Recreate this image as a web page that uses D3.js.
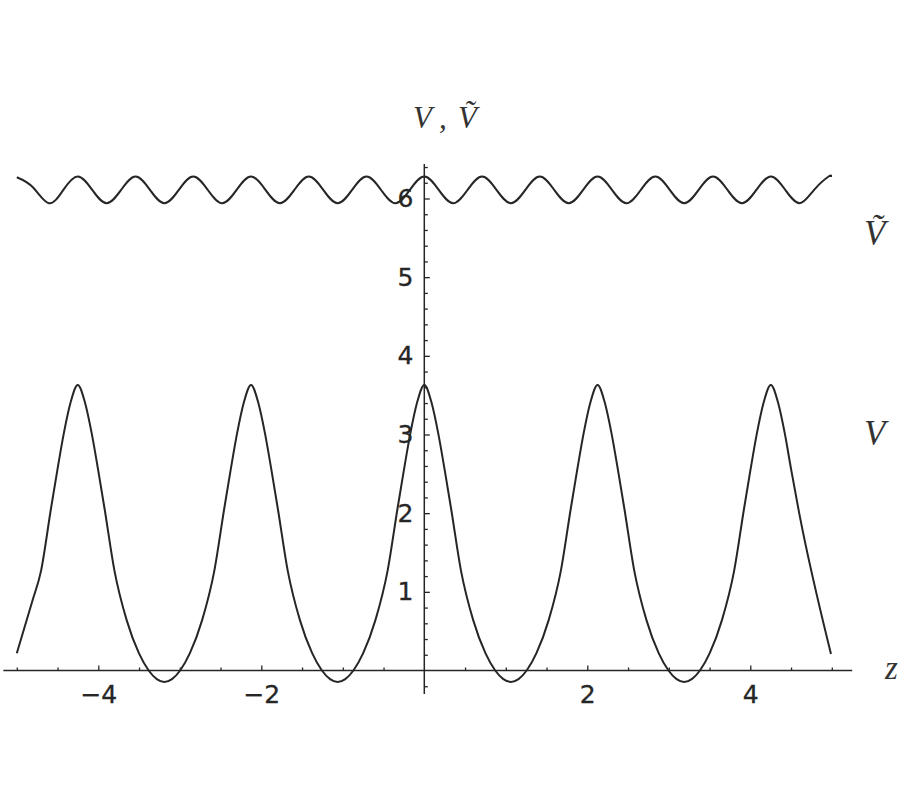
<!DOCTYPE html>
<html>
<head>
<meta charset="utf-8">
<script src="https://cdn.jsdelivr.net/npm/d3@7"></script>
<style>
  html, body { margin: 0; padding: 0; background: #ffffff; }
  svg { display: block; }
</style>
</head>
<body>
<svg id="chart" width="900" height="800"></svg>
<script>
// ---- Data ----
// V(z): pairs [z, V]
const vCurve = [
  [-5.000, 0.22], [-4.810, 0.88], [-4.702, 1.27], [-4.582, 2.05], [-4.502, 2.55],
  [-4.422, 3.02], [-4.342, 3.40], [-4.252, 3.63], [-4.162, 3.40], [-4.082, 3.02],
  [-4.002, 2.55], [-3.922, 2.05], [-3.802, 1.27], [-3.652, 0.64], [-3.502, 0.22],
  [-3.382, 0.00], [-3.282, -0.11], [-3.189, -0.145], [-3.096, -0.11], [-2.996, 0.00],
  [-2.876, 0.22], [-2.726, 0.64], [-2.576, 1.27], [-2.456, 2.05], [-2.376, 2.55],
  [-2.296, 3.02], [-2.216, 3.40], [-2.126, 3.63], [-2.036, 3.40], [-1.956, 3.02],
  [-1.876, 2.55], [-1.796, 2.05], [-1.676, 1.27], [-1.526, 0.64], [-1.376, 0.22],
  [-1.256, 0.00], [-1.156, -0.11], [-1.063, -0.145], [-0.970, -0.11], [-0.870, 0.00],
  [-0.750, 0.22], [-0.600, 0.64], [-0.450, 1.27], [-0.330, 2.05], [-0.250, 2.55],
  [-0.170, 3.02], [-0.090, 3.40], [0.000, 3.63], [0.090, 3.40], [0.170, 3.02],
  [0.250, 2.55], [0.330, 2.05], [0.450, 1.27], [0.600, 0.64], [0.750, 0.22],
  [0.870, 0.00], [0.970, -0.11], [1.063, -0.145], [1.156, -0.11], [1.256, 0.00],
  [1.376, 0.22], [1.526, 0.64], [1.676, 1.27], [1.796, 2.05], [1.876, 2.55],
  [1.956, 3.02], [2.036, 3.40], [2.126, 3.63], [2.216, 3.40], [2.296, 3.02],
  [2.376, 2.55], [2.456, 2.05], [2.576, 1.27], [2.726, 0.64], [2.876, 0.22],
  [2.996, 0.00], [3.096, -0.11], [3.189, -0.145], [3.282, -0.11], [3.382, 0.00],
  [3.502, 0.22], [3.652, 0.64], [3.802, 1.27], [3.922, 2.05], [4.002, 2.55],
  [4.082, 3.02], [4.162, 3.40], [4.252, 3.63], [4.342, 3.40], [4.422, 3.02],
  [4.502, 2.55], [4.600, 2.00], [4.990, 0.21]
];

// Ṽ(z): pairs [z, Ṽ]
const vTildeCurve = [
  [-5.000, 6.27], [-4.800, 6.14], [-4.606, 5.94], [-4.429, 6.11], [-4.252, 6.28],
  [-4.075, 6.11], [-3.898, 5.94], [-3.720, 6.11], [-3.543, 6.28], [-3.366, 6.11],
  [-3.189, 5.94], [-3.012, 6.11], [-2.835, 6.28], [-2.657, 6.11], [-2.480, 5.94],
  [-2.303, 6.11], [-2.126, 6.28], [-1.949, 6.11], [-1.772, 5.94], [-1.594, 6.11],
  [-1.417, 6.28], [-1.240, 6.11], [-1.063, 5.94], [-0.886, 6.11], [-0.709, 6.28],
  [-0.531, 6.11], [-0.354, 5.94], [-0.177, 6.11], [0.000, 6.28], [0.177, 6.11],
  [0.354, 5.94], [0.531, 6.11], [0.709, 6.28], [0.886, 6.11], [1.063, 5.94],
  [1.240, 6.11], [1.417, 6.28], [1.594, 6.11], [1.772, 5.94], [1.949, 6.11],
  [2.126, 6.28], [2.303, 6.11], [2.480, 5.94], [2.657, 6.11], [2.835, 6.28],
  [3.012, 6.11], [3.189, 5.94], [3.366, 6.11], [3.543, 6.28], [3.720, 6.11],
  [3.898, 5.94], [4.075, 6.11], [4.252, 6.28], [4.429, 6.11], [4.606, 5.94],
  [4.783, 6.11], [4.961, 6.28], [4.990, 6.275]
];

const xMajorTicks = [-4, -2, 2, 4];
const xMinorTicks = [-5, -4.5, -3.5, -3, -2.5, -1.5, -1, -0.5, 0.5, 1, 1.5, 2.5, 3, 3.5, 4.5, 5];
const yMajorTicks = [1, 2, 3, 4, 5, 6];
const yMinorTicks = [-0.2, 0.2, 0.4, 0.6, 0.8, 1.2, 1.4, 1.6, 1.8, 2.2, 2.4, 2.6, 2.8,
                     3.2, 3.4, 3.6, 3.8, 4.2, 4.4, 4.6, 4.8, 5.2, 5.4, 5.6, 5.8, 6.2, 6.4];
const xDomainExtent = [-5.165, 5.25];
const yDomainExtent = [-0.3, 6.44];

// ---- Scales ----
const x = d3.scaleLinear().domain([-5, 5]).range([16.8, 831.8]);
const y = d3.scaleLinear().domain([0, 6]).range([670.5, 198.5]);

const svg = d3.select("#chart");
const ink = "#262626";
const tickFont = "'DejaVu Sans', Verdana, sans-serif";
const mathFont = "'Liberation Serif', 'Times New Roman', 'DejaVu Serif', serif";

// ---- X axis ----
const gx = svg.append("g").attr("transform", `translate(0,${y(0)})`);
gx.append("line")
  .attr("x1", x(xDomainExtent[0])).attr("x2", x(xDomainExtent[1]))
  .attr("stroke", ink).attr("stroke-width", 1.5);
const xAxisMajor = d3.axisBottom(x).tickValues(xMajorTicks)
  .tickSizeInner(-5).tickSizeOuter(0).tickPadding(15)
  .tickFormat(d3.format("d"));
gx.append("g").call(xAxisMajor).call(g => g.select(".domain").remove());
const xAxisMinor = d3.axisBottom(x).tickValues(xMinorTicks)
  .tickSizeInner(-3).tickSizeOuter(0).tickFormat("");
gx.append("g").call(xAxisMinor).call(g => g.select(".domain").remove());
gx.selectAll(".tick line").attr("stroke", ink).attr("stroke-width", 1.3);
gx.selectAll(".tick text")
  .attr("font-family", tickFont).attr("font-size", 25).attr("fill", ink)
  .attr("stroke", ink).attr("stroke-width", 0.3);

// ---- Y axis ----
const gy = svg.append("g").attr("transform", `translate(${x(0)},0)`);
gy.append("line")
  .attr("y1", y(yDomainExtent[0])).attr("y2", y(yDomainExtent[1]))
  .attr("stroke", ink).attr("stroke-width", 1.5);
const yAxisMajor = d3.axisLeft(y).tickValues(yMajorTicks)
  .tickSizeInner(-5.5).tickSizeOuter(0).tickPadding(11)
  .tickFormat(d3.format("d"));
gy.append("g").call(yAxisMajor).call(g => g.select(".domain").remove());
const yAxisMinor = d3.axisLeft(y).tickValues(yMinorTicks)
  .tickSizeInner(-3.5).tickSizeOuter(0).tickFormat("");
gy.append("g").call(yAxisMinor).call(g => g.select(".domain").remove());
gy.selectAll(".tick line").attr("stroke", ink).attr("stroke-width", 1.3);
gy.selectAll(".tick text")
  .attr("font-family", tickFont).attr("font-size", 25).attr("fill", ink)
  .attr("stroke", ink).attr("stroke-width", 0.3);

// ---- Curves ----
const lineV = d3.line().x(d => x(d[0])).y(d => y(d[1])).curve(d3.curveMonotoneX);
const lineVt = d3.line().x(d => x(d[0])).y(d => y(d[1])).curve(d3.curveNatural);

svg.append("path").datum(vCurve)
  .attr("d", lineV).attr("fill", "none")
  .attr("stroke", ink).attr("stroke-width", 2).attr("stroke-linejoin", "round");
svg.append("path").datum(vTildeCurve)
  .attr("d", lineVt).attr("fill", "none")
  .attr("stroke", ink).attr("stroke-width", 2).attr("stroke-linejoin", "round");

// ---- Labels ----
const topLabel = svg.append("text").attr("y", 127.5)
  .attr("font-family", mathFont).attr("font-style", "italic")
  .attr("font-size", 31).attr("fill", "#333");
topLabel.append("tspan").attr("x", 413).text("V");
topLabel.append("tspan").attr("x", 439).text(", ");
topLabel.append("tspan").attr("x", 458).text("Ṽ");

svg.append("text").attr("x", 864).attr("y", 244.5)
  .attr("font-family", mathFont).attr("font-style", "italic")
  .attr("font-size", 35).attr("fill", "#333")
  .text("Ṽ");

svg.append("text").attr("x", 864).attr("y", 445)
  .attr("font-family", mathFont).attr("font-style", "italic")
  .attr("font-size", 35).attr("fill", "#333")
  .text("V");

svg.append("text").attr("x", 885).attr("y", 678.5)
  .attr("font-family", mathFont).attr("font-style", "italic")
  .attr("font-size", 33).attr("fill", "#333")
  .text("z");
</script>
</body>
</html>
